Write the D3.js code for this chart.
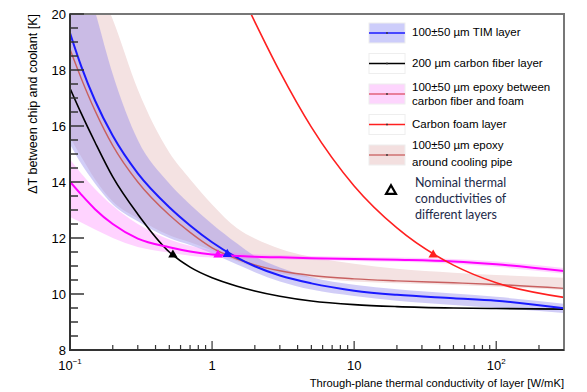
<!DOCTYPE html>
<html>
<head>
<meta charset="utf-8">
<script src="https://cdn.jsdelivr.net/npm/d3@7"></script>
<style>
  body { margin: 0; background: #fff; }
  svg { display: block; }
  text { font-family: "Liberation Sans", Arial, sans-serif; fill: #000; }
</style>
</head>
<body>
<div id="chart"></div>
<script>
// conductivity grid (W/mK) shared by most series
const kGrid = [0.1, 0.12, 0.15, 0.2, 0.3, 0.5, 0.7, 1, 1.5, 2, 3, 5, 10, 20, 50, 100, 300]

// 100±50 um TIM layer
const timLine  = [19.32, 18.13, 16.91, 15.65, 14.31, 13.1, 12.45, 11.85, 11.3, 10.99, 10.66, 10.38, 10.12, 9.97, 9.85, 9.76, 9.49]
const timUpper = [23.3, 21.8, 20.1, 17.85, 15.5, 13.95, 13.2, 12.5, 11.8, 11.35, 10.95, 10.6, 10.33, 10.17, 10.02, 9.9, 9.65]
const timLower = [15.35, 14.65, 13.95, 13.2, 12.6, 12.0, 11.75, 11.45, 11.05, 10.78, 10.45, 10.16, 9.93, 9.76, 9.61, 9.5, 9.32]

// 200 um carbon fiber layer
const fiberLine = [17.35, 16.45, 15.42, 14.18, 12.85, 11.5, 10.96, 10.58, 10.28, 10.11, 9.92, 9.75, 9.62, 9.55, 9.5, 9.48, 9.46]

// 100±50 um epoxy between carbon fiber and foam
const epoxyLine  = [14.01, 13.55, 13.03, 12.5, 11.98, 11.67, 11.52, 11.41, 11.36, 11.33, 11.31, 11.28, 11.25, 11.22, 11.16, 11.06, 10.82]
const epoxyUpper = [14.8, 14.3, 13.75, 13.15, 12.5, 11.95, 11.72, 11.55, 11.46, 11.42, 11.39, 11.36, 11.33, 11.3, 11.25, 11.16, 10.93]
const epoxyLower = [12.75, 12.55, 12.3, 12.0, 11.68, 11.48, 11.37, 11.3, 11.27, 11.25, 11.23, 11.21, 11.18, 11.15, 11.08, 10.97, 10.72]

// 100±50 um epoxy around cooling pipe
const pipeLine  = [18.74, 17.7, 16.55, 15.3, 14.0, 12.82, 12.2, 11.65, 11.25, 11.04, 10.83, 10.66, 10.54, 10.47, 10.4, 10.34, 10.2]
const pipeUpper = [24.0, 22.6, 21.3, 19.8, 17.3, 15.05, 14.1, 13.2, 12.35, 11.98, 11.62, 11.32, 11.08, 10.9, 10.76, 10.68, 10.58]
const pipeLower = [15.6, 14.9, 14.1, 13.3, 12.7, 12.1, 11.85, 11.55, 11.17, 10.95, 10.74, 10.58, 10.45, 10.38, 10.32, 10.26, 10.14]

// carbon foam layer (own grid, starts off the top of the plot)
const foamK    = [1.8, 2, 3, 5, 10, 20, 50, 100, 300]
const foamLine = [20.2, 19.72, 17.94, 15.96, 13.86, 12.36, 11.03, 10.4, 9.88]

// nominal conductivities (triangles)
const nominalK  = [0.53, 1.1, 1.28, 36]
const nominalDT = [11.4, 11.4, 11.42, 11.4]
const nominalColors = ['#000', '#ff00ff', '#1a1aff', '#ff2020']

const xMajor = [0.1, 1, 10, 100]
const xMajorLabels = [['10', '−1'], ['1', ''], ['10', ''], ['10', '2']]
const xMinor = [0.2, 0.3, 0.4, 0.5, 0.6, 0.7, 0.8, 0.9, 2, 3, 4, 5, 6, 7, 8, 9, 20, 30, 40, 50, 60, 70, 80, 90, 200]
const yMajor = [8, 10, 12, 14, 16, 18, 20]

const legendLabels = [
    ['100±50 µm TIM layer'],
    ['200 µm carbon fiber layer'],
    ['100±50 µm epoxy between', 'carbon fiber and foam'],
    ['Carbon foam layer'],
    ['100±50 µm epoxy', 'around cooling pipe']
]
const legendFills = ['#cdcdfa', '#fff', '#fdd5fd', '#fff', '#f3dfdf']
const legendLines = ['#1a1aff', '#000', '#e0607a', '#ff2020', '#cf7070']
const nominalText = ['Nominal thermal', 'conductivities of', 'different layers']

const width = 587, height = 392
const plot = { left: 70, right: 564, top: 14, bottom: 350 }

const x = d3.scaleLog().domain([0.1, 300]).range([plot.left, plot.right])
const y = d3.scaleLinear().domain([8, 20]).range([plot.bottom, plot.top])

const svg = d3.select('#chart').append('svg')
    .attr('width', width)
    .attr('height', height)

svg.append('defs').append('clipPath').attr('id', 'clip')
    .append('rect')
    .attr('x', plot.left).attr('y', plot.top)
    .attr('width', plot.right - plot.left).attr('height', plot.bottom - plot.top)

const g = svg.append('g').attr('clip-path', 'url(#clip)')

function band(upper, lower) {
    return d3.area()
        .x((d, i) => x(kGrid[i]))
        .y0((d, i) => y(lower[i]))
        .y1((d, i) => y(upper[i]))
        .curve(d3.curveMonotoneX)(kGrid)
}
const line = (ks, vals) => d3.line()
    .x((d, i) => x(ks[i]))
    .y((d, i) => y(vals[i]))
    .curve(d3.curveMonotoneX)(ks)

// bands
g.append('path').attr('d', band(pipeUpper, pipeLower)).attr('fill', '#f4e2e2')
g.append('path').attr('d', band(timUpper, timLower)).attr('fill', 'rgba(140,130,235,0.4)')
g.append('path').attr('d', band(epoxyUpper, epoxyLower)).attr('fill', 'rgba(255,110,255,0.3)')

// curves
g.append('path').attr('d', line(kGrid, pipeLine)).attr('fill', 'none').attr('stroke', '#c86060').attr('stroke-width', 1.4)
g.append('path').attr('d', line(kGrid, fiberLine)).attr('fill', 'none').attr('stroke', '#000').attr('stroke-width', 1.6)
g.append('path').attr('d', line(kGrid, timLine)).attr('fill', 'none').attr('stroke', '#1a1aff').attr('stroke-width', 2)
g.append('path').attr('d', line(kGrid, epoxyLine)).attr('fill', 'none').attr('stroke', '#ff00ff').attr('stroke-width', 2)
g.append('path').attr('d', line(foamK, foamLine)).attr('fill', 'none').attr('stroke', '#ff2020').attr('stroke-width', 1.6)

// nominal markers
const tri = d3.symbol().type(d3.symbolTriangle).size(38)
g.selectAll('.nominal')
    .data(nominalK)
    .enter()
    .append('path')
    .attr('class', 'nominal')
    .attr('d', tri)
    .attr('transform', (d, i) => `translate(${x(d)},${y(nominalDT[i])})`)
    .attr('fill', (d, i) => nominalColors[i])

// frame
svg.append('rect')
    .attr('x', plot.left).attr('y', plot.top)
    .attr('width', plot.right - plot.left).attr('height', plot.bottom - plot.top)
    .attr('fill', 'none').attr('stroke', '#777').attr('stroke-width', 2)
svg.append('path')
    .attr('d', `M${plot.left},${plot.top}V${plot.bottom}H${plot.right}`)
    .attr('fill', 'none').attr('stroke', '#333').attr('stroke-width', 2)

// y ticks
const yMinor = d3.range(8, 20.01, 0.5).filter(v => v % 2 !== 0)
svg.append('g').selectAll('line')
    .data(yMinor)
    .enter().append('line')
    .attr('x1', plot.left).attr('x2', plot.left + 8)
    .attr('y1', d => y(d)).attr('y2', d => y(d))
    .attr('stroke', '#333').attr('stroke-width', 1.5)
svg.append('g').selectAll('line')
    .data(yMajor)
    .enter().append('line')
    .attr('x1', plot.left).attr('x2', plot.left + 14)
    .attr('y1', d => y(d)).attr('y2', d => y(d))
    .attr('stroke', '#333').attr('stroke-width', 1.5)
svg.append('g').selectAll('text')
    .data(yMajor)
    .enter().append('text')
    .attr('x', plot.left - 4)
    .attr('y', d => y(d))
    .attr('dy', '0.36em')
    .attr('text-anchor', 'end')
    .style('font-size', '13px')
    .text(d => d)

// x ticks
svg.append('g').selectAll('line')
    .data(xMinor)
    .enter().append('line')
    .attr('x1', d => x(d)).attr('x2', d => x(d))
    .attr('y1', plot.bottom).attr('y2', plot.bottom - 5)
    .attr('stroke', '#333').attr('stroke-width', 1.2)
svg.append('g').selectAll('line')
    .data(xMajor)
    .enter().append('line')
    .attr('x1', d => x(d)).attr('x2', d => x(d))
    .attr('y1', plot.bottom).attr('y2', plot.bottom - 9)
    .attr('stroke', '#333').attr('stroke-width', 1.2)
const xl = svg.append('g').selectAll('text')
    .data(xMajor)
    .enter().append('text')
    .attr('x', d => x(d))
    .attr('y', 370)
    .attr('text-anchor', 'middle')
    .style('font-size', '13px')
xl.append('tspan').text((d, i) => xMajorLabels[i][0])
xl.append('tspan')
    .attr('dy', -6)
    .style('font-size', '8px')
    .text((d, i) => xMajorLabels[i][1])

// axis titles
svg.append('text')
    .attr('x', plot.right)
    .attr('y', 387)
    .attr('text-anchor', 'end')
    .style('font-size', '11.2px')
    .text('Through-plane thermal conductivity of layer [W/mK]')
svg.append('text')
    .attr('transform', `translate(37,${plot.top}) rotate(-90)`)
    .attr('text-anchor', 'end')
    .style('font-size', '12.5px')
    .text('ΔT between chip and coolant [K]')

// legend
const legendY = [33, 63.5, 94, 124.5, 155]
const legendTextY = [[36], [67], [91, 104.5], [128], [149, 165.5]]
const leg = svg.append('g')
legendLabels.forEach((lab, i) => {
    leg.append('rect')
        .attr('x', 369).attr('y', legendY[i] - 10)
        .attr('width', 36).attr('height', 20)
        .attr('fill', legendFills[i])
        .attr('stroke', '#eee').attr('stroke-width', 1)
    leg.append('line')
        .attr('x1', 369).attr('x2', 405)
        .attr('y1', legendY[i]).attr('y2', legendY[i])
        .attr('stroke', legendLines[i]).attr('stroke-width', 1.6)
    leg.append('circle')
        .attr('cx', 387).attr('cy', legendY[i]).attr('r', 0.9)
        .attr('fill', '#333')
    lab.forEach((t, j) => {
        leg.append('text')
            .attr('x', 412).attr('y', legendTextY[i][j])
            .style('font-size', '11.5px')
            .text(t)
    })
})
leg.append('path')
    .attr('d', d3.symbol().type(d3.symbolTriangle).size(42))
    .attr('transform', 'translate(391,191)')
    .attr('fill', '#fff').attr('stroke', '#000').attr('stroke-width', 2.2)
nominalText.forEach((t, j) => {
    leg.append('text')
        .attr('x', 415).attr('y', 187 + j * 16)
        .style('font-family', 'Lato, "Open Sans", sans-serif')
        .style('font-size', '12.5px')
        .style('fill', '#1c2a4a')
        .text(t)
})
</script>
</body>
</html>
